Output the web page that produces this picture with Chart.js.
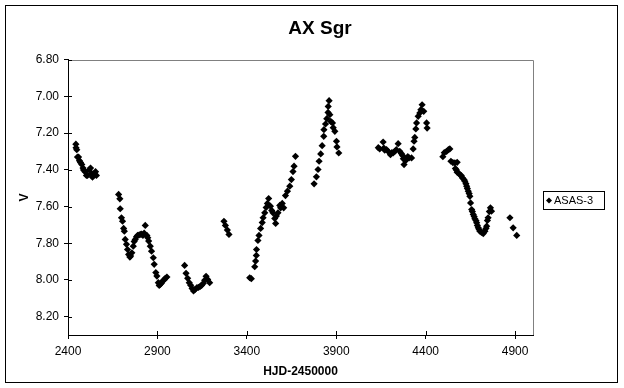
<!DOCTYPE html>
<html>
<head>
<meta charset="utf-8">
<script src="https://cdn.jsdelivr.net/npm/chart.js@4/dist/chart.umd.min.js"></script>
<style>
  html, body { margin: 0; padding: 0; background: #fff; }
  #wrap { width: 624px; height: 388px; }
</style>
</head>
<body>
<div id="wrap"><canvas id="lightCurve" width="624" height="388"></canvas></div>
<script>
// AX Sgr light curve, ASAS-3 photometry

const title = 'AX Sgr';
const seriesName = 'ASAS-3';
const xTicks = [2400, 2900, 3400, 3900, 4400, 4900];
const yTicks = [6.8, 7.0, 7.2, 7.4, 7.6, 7.8, 8.0, 8.2];

// HJD-2450000
const hjd = [
  2444, 2445, 2449, 2453, 2459, 2464, 2470, 2477, 2484, 2487, 2495, 2503, 2509, 2518, 2526, 2532, 2537, 2546, 2554, 2559,
  2683, 2690, 2692, 2699, 2705, 2711, 2715, 2720, 2727, 2733, 2739, 2746, 2750, 2757, 2765, 2770, 2776, 2783, 2789, 2797,
  2804, 2812, 2819, 2826, 2832, 2841, 2846, 2851, 2860, 2867, 2877, 2882, 2891, 2897, 2905, 2910, 2916, 2922, 2929, 2937, 2944, 2953,
  3052, 3060, 3069, 3078, 3086, 3094, 3102, 3111, 3121, 3130, 3139, 3147, 3156, 3164, 3172, 3181, 3192,
  3272, 3280, 3291, 3300,
  3416, 3425, 3444, 3449, 3453, 3454, 3462, 3468, 3477, 3486, 3491, 3500, 3508, 3515, 3522, 3532, 3539, 3546, 3556, 3561,
  3565, 3574, 3584, 3589, 3598, 3606, 3616, 3627, 3640, 3649, 3658, 3664, 3672,
  3776, 3789, 3798, 3804, 3813, 3821, 3830, 3831, 3840, 3847, 3854, 3855, 3860, 3864, 3869, 3879, 3883, 3892, 3901, 3904, 3914,
  4135, 4143, 4162, 4166, 4171, 4181, 4190, 4203, 4211, 4218, 4227, 4236, 4246, 4255, 4264, 4271, 4275, 4279, 4286, 4293,
  4300, 4307, 4321, 4330, 4335, 4339, 4345, 4349, 4358, 4367, 4373, 4380, 4389, 4405, 4408,
  4496, 4504, 4517, 4527, 4535, 4541, 4552, 4563, 4576, 4566, 4572, 4576, 4583, 4591, 4599, 4606, 4614, 4619, 4625, 4629,
  4633, 4638, 4643, 4647, 4651, 4657, 4661, 4666, 4671, 4675, 4681, 4685, 4689, 4694, 4699, 4703, 4712, 4722, 4727, 4731,
  4737, 4741, 4745, 4749, 4756, 4762, 4768,
  4871, 4889, 4909
];

// V magnitude
const vmag = [
  7.26, 7.28, 7.29, 7.33, 7.33, 7.35, 7.36, 7.37, 7.39, 7.40, 7.41, 7.43, 7.43, 7.40, 7.39, 7.42, 7.44, 7.42, 7.41, 7.43,
  7.534, 7.558, 7.612, 7.661, 7.680, 7.719, 7.734, 7.779, 7.806, 7.834, 7.861, 7.875, 7.870, 7.852, 7.816, 7.790, 7.779, 7.765, 7.757, 7.755,
  7.752, 7.750, 7.757, 7.745, 7.703, 7.757, 7.770, 7.788, 7.816, 7.843, 7.879, 7.915, 7.960, 7.979, 8.015, 8.030, 8.024, 8.018, 8.006, 8.000, 7.991, 7.984,
  7.921, 7.964, 7.991, 8.015, 8.029, 8.046, 8.060, 8.051, 8.042, 8.040, 8.035, 8.029, 8.019, 8.002, 7.980, 7.997, 8.015,
  7.680, 7.703, 7.728, 7.752,
  7.988, 7.993, 7.928, 7.897, 7.866, 7.834, 7.785, 7.757, 7.719, 7.687, 7.661, 7.634, 7.605, 7.583, 7.556, 7.598, 7.621, 7.634, 7.665, 7.692,
  7.652, 7.634, 7.594, 7.607, 7.583, 7.607, 7.540, 7.516, 7.489, 7.453, 7.409, 7.380, 7.326,
  7.476, 7.438, 7.398, 7.353, 7.313, 7.268, 7.217, 7.181, 7.150, 7.121, 7.087, 7.054, 7.023, 7.099, 7.136, 7.144, 7.170, 7.190, 7.244, 7.275, 7.308,
  7.279, 7.286, 7.248, 7.281, 7.293, 7.290, 7.299, 7.317, 7.306, 7.308, 7.299, 7.290, 7.257, 7.299, 7.311, 7.322, 7.339, 7.371, 7.349, 7.344,
  7.328, 7.335, 7.335, 7.286, 7.244, 7.223, 7.177, 7.144, 7.108, 7.090, 7.072, 7.045, 7.081, 7.144, 7.172,
  7.328, 7.306, 7.299, 7.290, 7.286, 7.353, 7.360, 7.362, 7.359, 7.393, 7.401, 7.413, 7.417, 7.426, 7.431, 7.444, 7.453, 7.462, 7.475, 7.489,
  7.502, 7.516, 7.529, 7.544, 7.580, 7.616, 7.627, 7.643, 7.654, 7.667, 7.676, 7.688, 7.703, 7.716, 7.725, 7.734, 7.741, 7.747, 7.736, 7.734,
  7.719, 7.707, 7.676, 7.661, 7.627, 7.607, 7.625,
  7.661, 7.716, 7.757
];

const FONT = 'Arial, "Liberation Sans", sans-serif';

// plot frame, inner tick halves, outer border and legend box (Excel look)
const excelFrame = {
  id: 'excelFrame',
  afterDraw(chart) {
    const { ctx, chartArea: a, scales } = chart;
    ctx.save();
    ctx.lineWidth = 1;

    ctx.strokeStyle = '#808080';
    ctx.beginPath();
    ctx.moveTo(a.left, Math.round(a.top) + 0.5);
    ctx.lineTo(Math.round(a.right) + 0.5, Math.round(a.top) + 0.5);
    ctx.lineTo(Math.round(a.right) + 0.5, a.bottom);
    ctx.stroke();

    ctx.strokeStyle = '#000';
    ctx.beginPath();
    scales.y.ticks.forEach(t => {
      const py = Math.round(scales.y.getPixelForValue(t.value)) + 0.5;
      ctx.moveTo(a.left, py);
      ctx.lineTo(a.left + 4, py);
    });
    scales.x.ticks.forEach(t => {
      const px = Math.round(scales.x.getPixelForValue(t.value)) + 0.5;
      ctx.moveTo(px, a.bottom);
      ctx.lineTo(px, a.bottom - 4);
    });
    ctx.stroke();

    ctx.strokeRect(5.5, 5.5, 612, 377);

    // legend
    ctx.strokeRect(543.5, 191.5, 61, 18);
    const mx = 549, my = 200.5, r = 3;
    ctx.fillStyle = '#000';
    ctx.beginPath();
    ctx.moveTo(mx - r, my);
    ctx.lineTo(mx, my - r);
    ctx.lineTo(mx + r, my);
    ctx.lineTo(mx, my + r);
    ctx.closePath();
    ctx.fill();
    ctx.font = '11px ' + FONT;
    ctx.textBaseline = 'middle';
    ctx.fillText(seriesName, 554, my + 0.5);
    ctx.restore();
  }
};

new Chart(document.getElementById('lightCurve'), {
  type: 'scatter',
  data: {
    datasets: [{
      label: seriesName,
      data: hjd.map((d, i) => ({ x: d, y: vmag[i] })),
      pointStyle: 'rectRot',
      pointRadius: 3.6,
      pointBorderWidth: 0,
      backgroundColor: '#000',
      borderColor: '#000'
    }]
  },
  options: {
    responsive: false,
    animation: false,
    events: [],
    layout: { padding: { left: 16, right: 0, top: 6, bottom: 6 } },
    plugins: {
      legend: { display: false },
      tooltip: { enabled: false },
      title: {
        display: true,
        text: title,
        color: '#000',
        font: { family: FONT, size: 19, weight: 'bold' },
        padding: { top: 11, bottom: 20 }
      }
    },
    scales: {
      x: {
        type: 'linear',
        min: 2400,
        max: 5000,
        afterBuildTicks: s => { s.ticks = xTicks.map(v => ({ value: v })); },
        afterFit: s => { s.height = 47; },
        ticks: { color: '#000', font: { family: FONT, size: 12 }, padding: 5, maxRotation: 0, callback: v => String(v) },
        grid: { drawOnChartArea: false, color: '#000', tickLength: 4 },
        border: { color: '#000' },
        title: {
          display: true,
          text: 'HJD-2450000',
          color: '#000',
          font: { family: FONT, size: 12, weight: 'bold' },
          padding: { top: 3, bottom: 3 }
        }
      },
      y: {
        type: 'linear',
        reverse: true,
        min: 6.8,
        max: 8.3,
        afterBuildTicks: s => { s.ticks = yTicks.map(v => ({ value: v })); },
        afterFit: s => { s.width = 52; },
        ticks: {
          color: '#000',
          font: { family: FONT, size: 12 },
          padding: 5,
          callback: v => v.toFixed(2)
        },
        grid: { drawOnChartArea: false, color: '#000', tickLength: 4 },
        border: { color: '#000' },
        title: {
          display: true,
          text: 'V',
          color: '#000',
          font: { family: FONT, size: 12, weight: 'bold' },
          padding: { top: 1, bottom: 0 }
        }
      },
      // empty right-hand band that holds the legend area
      side: {
        type: 'linear',
        axis: 'y',
        position: 'right',
        afterFit: s => { s.width = 91; },
        ticks: { display: false },
        grid: { display: false },
        border: { display: false }
      }
    }
  },
  plugins: [excelFrame]
});
</script>
</body>
</html>
